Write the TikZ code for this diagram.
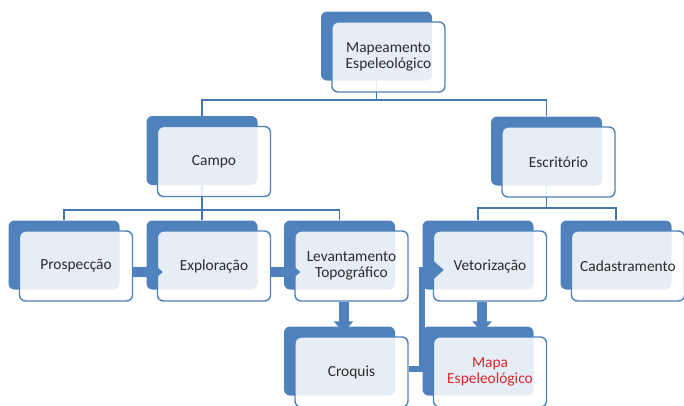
\documentclass[tikz,border=0pt]{standalone}
\usepackage{fontspec}
\setmainfont{Carlito}
\usetikzlibrary{arrows.meta}
\definecolor{azul}{HTML}{4F81BD}
\definecolor{azulesc}{HTML}{4675B4}
\definecolor{texto}{HTML}{2B2B2B}
\definecolor{vermelho}{HTML}{D9262B}
\pgfdeclarelayer{fundo}
\pgfsetlayers{fundo,main}
\newcommand{\caixa}[5][]
{\begin{scope}
	\node [atras] (#2-b) at ({#3-12},{#4-11}) {};
	\node [frente,#1] (#2) at (#3,#4) {#5};
	\end{scope}
}

\begin{document}
\begin{tikzpicture}[x=1pt,y=-1pt, >=latex,
	atras/.style={fill=azul, rounded corners=6pt, minimum width=111pt, minimum height=69pt, inner sep=0pt},
	frente/.style={draw=azul, line width=1.4pt, fill=white, fill opacity=0.86, text opacity=1, text=texto,
		rounded corners=6pt, minimum width=113pt, minimum height=70pt, inner sep=0pt, align=center,
		font=\fontsize{15.4}{15.5}\selectfont},
	liga/.style={draw=azulesc, line width=1.4pt},
	seta/.style={draw=azul, line width=10pt, -{Triangle[length=11pt,width=19pt]}},
	seta2/.style={draw=azul, line width=6pt, line join=miter, -{Triangle[length=10pt,width=17pt]}}]

\useasboundingbox (0,0) rectangle (684,405);
\clip (0,0) rectangle (684,405);

\caixa{mapeamento}{388.5}{57}{Mapeamento\\Espeleológico};
\caixa{campo}{214}{161.5}{Campo};
\caixa{escritorio}{558.5}{162}{Escritório};

\caixa{prospeccao}{76}{266}{Prospecção};
\caixa{exploracao}{214}{266}{Exploração};
\caixa{levantamento}{351.5}{266}{Levantamento\\Topográfico};
\caixa{vetorizacao}{490}{266}{Vetorização};
\caixa{cadastramento}{628}{266}{Cadastramento};
\caixa{croquis}{351.5}{372}{Croquis};
\caixa[text=vermelho]{mapa}{490}{372}{Mapa\\Espeleológico};

\coordinate (y1) at (0,100);
\coordinate (y2) at (0,210);
\coordinate (y3) at (0,208);

\begin{pgfonlayer}{fundo}
	\draw[liga] (mapeamento-b.south) -- (mapeamento-b.south |- y1);
	\draw[liga] (campo-b.north) |- (mapeamento-b.south |- y1) -| (escritorio-b.north);
	\draw[liga] (campo-b.south) -- (exploracao-b.north);
	\draw[liga] (prospeccao-b.north) |- (exploracao-b.north |- y2) -| (levantamento-b.north);
	\draw[liga] (escritorio-b.south) -- (escritorio-b.south |- y3);
	\draw[liga] (vetorizacao-b.north) |- (escritorio-b.south |- y3) -| (cadastramento-b.north);
\end{pgfonlayer}

\draw[seta] ([yshift=-6pt]prospeccao.east) -- ([xshift=6pt,yshift=-6pt]exploracao.west);
\draw[seta] ([yshift=-6pt]exploracao.east) -- ([xshift=6pt,yshift=-6pt]levantamento.west);
\draw[seta] ([xshift=-8pt]levantamento.south) -- ([xshift=-8pt,yshift=4pt]croquis.north);
\draw[seta] ([xshift=-8pt]vetorizacao.south) -- ([xshift=-8pt,yshift=4pt]mapa.north);
\draw[seta2] ([yshift=3pt]croquis.east) -| ([xshift=-11pt,yshift=-4pt]vetorizacao.west)
	-- ([xshift=11pt,yshift=-4pt]vetorizacao.west);

\end{tikzpicture}
\end{document}
